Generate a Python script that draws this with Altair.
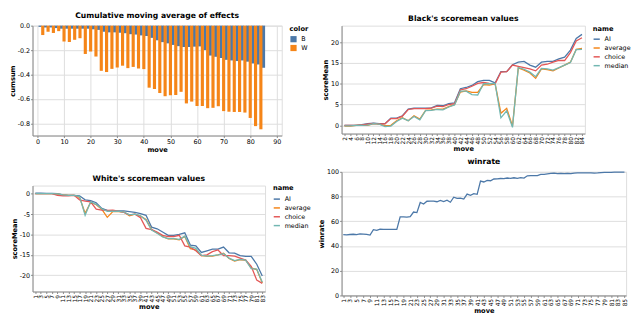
import altair as alt
import pandas as pd

FONT = "DejaVu Sans"

# ---------- Chart 1: cumulative moving average of effects ----------
b_moves = list(range(1, 86, 2))
b_cum = [-0.01, -0.015, -0.015, -0.02, -0.025, -0.025, -0.025, -0.025, -0.025, -0.025,
         -0.03, -0.035, -0.05, -0.055, -0.055, -0.058, -0.062, -0.07, -0.073, -0.08,
         -0.085, -0.1, -0.12, -0.135, -0.145, -0.158, -0.168, -0.175, -0.175, -0.172,
         -0.17, -0.2, -0.245, -0.255, -0.265, -0.28, -0.285, -0.29, -0.285, -0.295,
         -0.31, -0.318, -0.345]
w_moves = list(range(2, 85, 2))
w_cum = [-0.077, -0.05, -0.06, -0.045, -0.13, -0.134, -0.116, -0.103, -0.232, -0.212,
         -0.253, -0.37, -0.38, -0.354, -0.343, -0.328, -0.348, -0.338, -0.351, -0.356,
         -0.508, -0.519, -0.552, -0.578, -0.57, -0.568, -0.542, -0.637, -0.622, -0.658,
         -0.658, -0.676, -0.673, -0.66, -0.7, -0.705, -0.707, -0.707, -0.712, -0.756,
         -0.823, -0.849]
bar_colors = ["B", "W"]
bar_palette = ["#4c78a8", "#f58518"]
x1_ticks = [0, 10, 20, 30, 40, 50, 60, 70, 80, 90]
y1_ticks = [0, -0.2, -0.4, -0.6, -0.8]

# ---------- Chart 2: Black's scoremean ----------
names = ["AI", "average", "choice", "median"]
line_palette = ["#4c78a8", "#f58518", "#e45756", "#72b7b2"]
black_moves = list(range(2, 85, 2))
black_ai = [0, -0.05, 0, 0.15, 0.4, 0.5, 0.4, 0.4, 1.7, 1.7,
            2.3, 3.9, 4.1, 4.1, 4.1, 4.2, 4.8, 4.7, 5.2, 5.4,
            8.8, 9.1, 9.6, 10.5, 10.8, 10.8, 10.2, 12.9, 12.9, 14.6,
            15.2, 15.4, 14.5, 14.0, 15.2, 15.4, 15.4, 16.0, 16.4, 18.1,
            20.9, 21.9]
black_average = [-0.2, -0.2, 0, 0, 0, 0.4, 0.3, -0.1, 0, 1.1,
                 1.8, 1.1, 2.3, 1.5, 3.6, 3.7, 3.9, 3.9, 4.5, 5.0,
                 8.0, 8.3, 7.9, 7.9, 9.8, 9.7, 10.0, 2.9, 4.1, -0.2,
                 13.8, 13.3, 12.6, 11.3, 13.6, 13.4, 13.1, 13.8, 14.5, 15.2,
                 18.3, 18.5]
black_choice = [0, -0.05, 0, 0.1, 0.3, 0.45, 0.35, 0.35, 1.6, 1.6,
                2.2, 3.8, 4.0, 4.0, 4.0, 4.1, 4.6, 4.5, 5.0, 5.2,
                8.5, 8.8, 9.4, 10.1, 10.3, 10.1, 10.0, 12.8, 12.9, 14.5,
                14.2, 13.9, 13.6, 13.1, 14.5, 14.7, 15.2, 15.6, 15.6, 17.5,
                20.3, 21.1]
black_median = [-0.15, -0.15, 0, 0, 0.05, 0.4, 0.25, -0.3, -0.2, 0.9,
                1.7, 1.1, 2.1, 1.3, 3.5, 3.6, 3.8, 3.7, 4.4, 4.9,
                8.2, 8.2, 7.4, 7.3, 10.0, 10.0, 10.1, 1.8, 3.5, -0.5,
                13.9, 13.5, 12.8, 11.7, 13.7, 13.6, 13.3, 13.9, 14.5, 15.1,
                18.2, 18.3]
y2_ticks = [0, 5, 10, 15, 20]

# ---------- Chart 3: White's scoremean ----------
white_moves = list(range(1, 84, 2))
white_ai = [0.15, 0.15, 0.1, 0.1, 0, -0.3, -0.4, -0.4, -0.5, -1.5,
            -1.7, -2.2, -3.6, -4.1, -4.2, -4.2, -4.2, -4.4, -4.6, -4.9,
            -5.3, -8.2, -8.6, -9.4, -10.2, -10.2, -10.0, -9.6, -12.6, -12.8,
            -14.4, -14.0, -13.6, -13.6, -13.1, -14.5, -14.6, -15.2, -15.4, -15.4,
            -17.3, -20.2]
white_average = [0, 0, 0, 0, -0.1, -0.3, -0.4, -0.4, -0.9, -4.8,
                 -2.1, -2.7, -3.8, -5.8, -4.4, -4.4, -4.5, -5.4, -5.0, -5.5,
                 -6.3, -8.8, -9.6, -10.5, -11.1, -11.1, -11.3, -10.5, -13.5, -13.8,
                 -15.2, -15.3, -15.3, -15.0, -14.6, -15.9, -16.5, -16.2, -16.3, -18.2,
                 -18.6, -21.9]
white_choice = [0, 0, 0, 0, -0.4, -0.5, -0.5, -0.4, -1.5, -1.8,
                -2.0, -3.8, -4.0, -4.1, -4.0, -4.3, -4.6, -5.2, -5.0, -5.9,
                -8.5, -8.8, -9.4, -10.2, -10.5, -10.5, -10.2, -12.8, -13.1, -14.0,
                -15.2, -15.0, -14.2, -13.8, -15.2, -15.2, -15.3, -15.8, -16.3, -17.8,
                -21.2, -22.0]
white_median = [0, 0, 0, 0, -0.05, -0.3, -0.4, -0.4, -0.7, -5.3,
                -2.0, -2.6, -3.7, -4.3, -4.3, -4.3, -4.5, -5.2, -5.0, -5.4,
                -6.5, -8.9, -9.7, -10.6, -11.0, -11.0, -11.2, -10.4, -13.0, -13.4,
                -15.1, -15.3, -15.2, -15.0, -14.7, -15.8, -16.4, -16.1, -16.3, -18.4,
                -18.5, -21.7]
y3_ticks = [0, -5, -10, -15, -20]

# ---------- Chart 4: winrate ----------
win_moves = list(range(1, 86))
winrate = [49.2, 49.0, 49.3, 49.5, 49.2, 49.8, 49.7, 49.5, 48.8, 53.2,
           52.6, 53.7, 53.5, 53.5, 53.4, 53.5, 53.4, 63.5, 63.6, 63.4,
           63.7, 67.5, 67.0, 75.2, 74.0, 76.2, 76.3, 76.3, 75.8, 76.8,
           76.0, 77.0, 75.4, 79.5, 78.5, 78.8, 78.0, 82.0, 81.0, 82.3,
           81.8, 92.5, 91.8, 93.0, 92.8, 94.2, 94.3, 94.6, 94.5, 95.0,
           94.7, 95.2, 94.8, 95.3, 95.0, 96.8, 96.9, 97.0, 97.0, 97.9,
           98.0, 98.4, 98.7, 98.9, 98.6, 98.7, 98.6, 98.7, 98.6, 99.0,
           99.1, 99.1, 99.2, 99.1, 99.2, 99.0, 99.1, 99.3, 99.5, 99.6,
           99.6, 99.7, 99.7, 99.8, 99.8]
x4_ticks = list(range(1, 86, 2))
y4_ticks = [0, 20, 40, 60, 80, 100]

# ---------- build tables ----------
df1 = pd.DataFrame({
    "move": b_moves + w_moves,
    "cumsum": b_cum + w_cum,
    "color": ["B"] * len(b_moves) + ["W"] * len(w_moves),
})


def long(moves, series):
    rows = []
    for n, vals in zip(names, series):
        for m, v in zip(moves, vals):
            rows.append({"move": m, "name": n, "scoreMean": v})
    return pd.DataFrame(rows)


df2 = long(black_moves, [black_ai, black_average, black_choice, black_median])
df3 = long(white_moves, [white_ai, white_average, white_choice, white_median])
df4 = pd.DataFrame({"move": win_moves, "winrate": winrate})

line_color = alt.Color("name:N", scale=alt.Scale(domain=names, range=line_palette))
disc_axis = dict(labelOverlap=False, labelFontSize=6)

c1 = alt.Chart(df1).mark_bar(size=3.2).encode(
    x=alt.X("move:Q", scale=alt.Scale(domain=[0, 90], nice=False),
            axis=alt.Axis(values=x1_ticks)),
    y=alt.Y("cumsum:Q", scale=alt.Scale(domain=[-0.9, 0], nice=False),
            axis=alt.Axis(values=y1_ticks, format=".1f")),
    color=alt.Color("color:N", scale=alt.Scale(domain=bar_colors, range=bar_palette)),
).properties(width=254, height=112, title="Cumulative moving average of effects")

c2 = alt.Chart(df2).mark_line(strokeWidth=1.3).encode(
    x=alt.X("move:O", axis=alt.Axis(**disc_axis)),
    y=alt.Y("scoreMean:Q", scale=alt.Scale(domain=[-2, 24], nice=False, zero=False),
            axis=alt.Axis(values=y2_ticks)),
    color=line_color,
).properties(width=248, height=110, title="Black's scoremean values")

c3 = alt.Chart(df3).mark_line(strokeWidth=1.3).encode(
    x=alt.X("move:O", axis=alt.Axis(**disc_axis)),
    y=alt.Y("scoreMean:Q", scale=alt.Scale(domain=[-24, 2], nice=False, zero=False),
            axis=alt.Axis(values=y3_ticks)),
    color=line_color,
).properties(width=237, height=108, title="White's scoremean values")

c4 = alt.Chart(df4).mark_line(strokeWidth=1.3, color="#4c78a8").encode(
    x=alt.X("move:O", axis=alt.Axis(values=x4_ticks, **disc_axis)),
    y=alt.Y("winrate:Q", scale=alt.Scale(domain=[0, 100], nice=False),
            axis=alt.Axis(values=y4_ticks)),
).properties(width=290, height=126, title="winrate")

left_col = alt.vconcat(c1, c3, spacing=20).resolve_scale(color="independent")
right_col = alt.vconcat(c2, c4, spacing=4).resolve_scale(color="independent")

chart = alt.hconcat(left_col, right_col, spacing=6).resolve_scale(color="independent").properties(
    padding=0
).configure(
    font=FONT,
    locale={"number": {"decimal": ".", "thousands": ",", "grouping": [3],
                       "currency": ["$", ""], "minus": "-"}},
).configure_axis(
    labelFontSize=6.5, titleFontSize=6.8, tickSize=2, labelPadding=1, titlePadding=2,
    labelFont=FONT, titleFont=FONT,
).configure_title(
    fontSize=7.8, offset=3, font=FONT,
).configure_legend(
    labelFontSize=6.5, titleFontSize=6.8, symbolSize=40, rowPadding=1, titlePadding=3,
    offset=8, labelFont=FONT, titleFont=FONT,
)

chart.save("out.html", embed_options={"renderer": "svg", "actions": False})
